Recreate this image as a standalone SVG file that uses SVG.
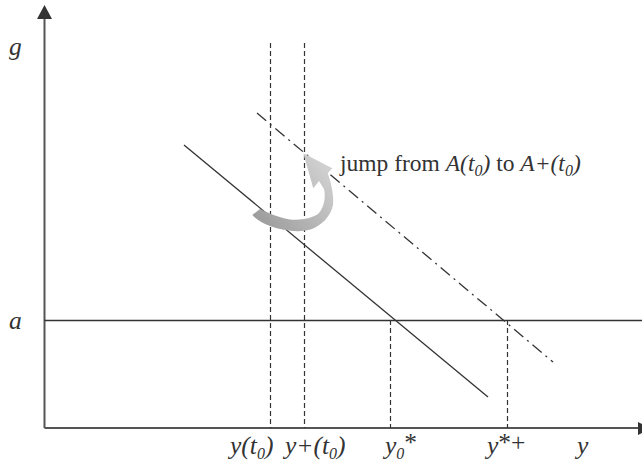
<svg xmlns="http://www.w3.org/2000/svg" width="642" height="466" viewBox="0 0 642 466">
<style>
.axis{stroke:#555;stroke-width:2;fill:none}
.line{stroke:#333;stroke-width:1.3;fill:none}
.dash{stroke:#333;stroke-width:1.2;fill:none;stroke-dasharray:5 3}
.dashdot{stroke:#333;stroke-width:1.3;fill:none;stroke-dasharray:12 5 2 5}
.lbl{font-style:italic;font-size:25.5px}
.txt{font-size:23.5px}
.sub{font-size:16px;font-style:italic}
</style>
<defs>
<linearGradient id="arrowGrad" x1="252" y1="215" x2="320" y2="160" gradientUnits="userSpaceOnUse">
<stop offset="0" stop-color="#9c9c9c"/>
<stop offset="1" stop-color="#d0d0d0"/>
</linearGradient>
</defs>
<g id="axes">
<line class="axis" x1="44.5" y1="428" x2="44.5" y2="18"/>
<polygon points="44.5,5 37,19 52,19" fill="#333"/>
<line class="axis" x1="44.5" y1="428" x2="638" y2="428"/>
<polygon points="651,428.3 638,422 638,435" fill="#333"/>
</g>
<g id="connectors">
<line class="line" x1="44.5" y1="320.5" x2="642" y2="320.5"/>
<line class="line" x1="184" y1="145" x2="488" y2="397"/>
<line class="dashdot" x1="257" y1="113" x2="553" y2="362"/>
<line class="dash" x1="270.5" y1="43" x2="270.5" y2="428"/>
<line class="dash" x1="304.5" y1="43" x2="304.5" y2="428"/>
<line class="dash" x1="390.5" y1="320" x2="390.5" y2="428"/>
<line class="dash" x1="507.5" y1="320" x2="507.5" y2="428"/>
</g>
<g id="jump-arrow">
<path fill="url(#arrowGrad)" d="M252.3,215 L260,209 C268,213 280,218 290,219.5 C302,220.5 312,218 318,214 C324,208 326,197 324,189 L319,181 L313.3,188.3 L303.3,153.3 L332.3,168.3 L327.7,173.3 C331,182 334,195 333,205 C331,216 322,225 312,229 C300,233 284,231 270,226 C262,223 256,219 252.3,215 Z"/>
</g>
<g id="labels" font-family="Liberation Serif, Times New Roman, serif" fill="#333">
<text class="lbl" x="9" y="55">g</text>
<text class="lbl" x="9" y="329">a</text>
<text class="lbl" x="230" y="454">y(t<tspan class="sub" dy="5">0</tspan><tspan dy="-5">)</tspan></text>
<text class="lbl" x="285" y="454">y+(t<tspan class="sub" dy="5">0</tspan><tspan dy="-5">)</tspan></text>
<text class="lbl" x="385" y="454">y<tspan class="sub" dy="5">0</tspan><tspan font-style="normal" dy="-8">*</tspan></text>
<text class="lbl" x="487" y="454">y<tspan font-style="normal" dy="-3">*+</tspan></text>
<text class="lbl" x="577" y="454">y</text>
<text class="txt" x="340" y="171">jump from <tspan font-style="italic">A(t<tspan class="sub" dy="5">0</tspan><tspan dy="-5">)</tspan></tspan> to <tspan font-style="italic">A+(t<tspan class="sub" dy="5">0</tspan><tspan dy="-5">)</tspan></tspan></text>
</g>
</svg>
